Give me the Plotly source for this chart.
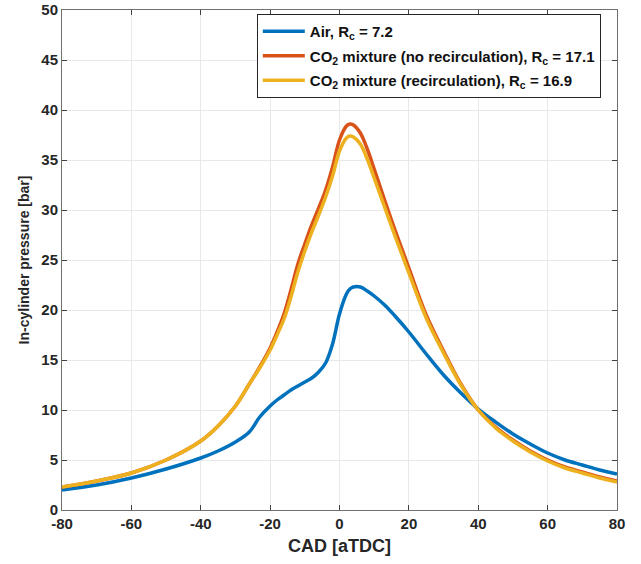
import plotly.graph_objects as go

# CAD [aTDC] sample positions shared by all series
cad = [-80, -70, -60, -50, -40, -35, -30, -26, -23, -20, -18, -16, -14, -12, -10, -8, -6, -4, -2, 0,
       2, 3, 4, 6, 8, 10, 13, 16, 20, 25, 30, 35, 40, 45, 50, 55, 60, 65, 70, 75, 80]

# In-cylinder pressure [bar]
p_air = [2.0, 2.5, 3.2, 4.1, 5.2, 5.9, 6.8, 7.8, 9.3, 10.4, 11.0, 11.5, 12.0, 12.4, 12.8, 13.2, 13.8, 14.7, 16.6, 19.6,
         21.6, 22.1, 22.3, 22.3, 21.9, 21.4, 20.5, 19.4, 17.8, 15.6, 13.5, 11.7, 10.1, 8.8, 7.6, 6.6, 5.7, 5.0, 4.5, 4.0, 3.6]
p_norecirc = [2.3, 2.9, 3.7, 5.0, 6.9, 8.4, 10.4, 12.6, 14.3, 16.2, 17.8, 19.6, 22.0, 24.6, 26.6, 28.5, 30.2, 32.0, 34.3, 37.0,
              38.4, 38.6, 38.5, 37.7, 36.1, 34.1, 31.0, 28.0, 24.2, 19.5, 15.9, 12.6, 10.0, 8.3, 7.0, 5.9, 5.0, 4.3, 3.8, 3.3, 2.9]
p_recirc = [2.3, 2.9, 3.7, 5.0, 6.9, 8.4, 10.4, 12.6, 14.2, 16.0, 17.5, 19.1, 21.3, 23.8, 25.9, 27.8, 29.5, 31.3, 33.4, 35.9,
            37.2, 37.4, 37.3, 36.6, 35.1, 33.2, 30.3, 27.4, 23.7, 19.2, 15.7, 12.5, 10.0, 8.2, 6.9, 5.8, 4.9, 4.2, 3.7, 3.2, 2.8]

names = ["Air, R<sub>c</sub> = 7.2",
         "CO<sub>2</sub> mixture (no recirculation), R<sub>c</sub> = 17.1",
         "CO<sub>2</sub> mixture (recirculation), R<sub>c</sub> = 16.9"]
colors = ["#0072BD", "#D95319", "#EDB120"]

x_ticks = [-80, -60, -40, -20, 0, 20, 40, 60, 80]
x_ticktext = ["-80", "-60", "-40", "-20", "0", "20", "40", "60", "80"]
y_ticks = [0, 5, 10, 15, 20, 25, 30, 35, 40, 45, 50]

fig = go.Figure()
for i, (ys, nm, c) in enumerate([(p_air, names[0], colors[0]),
                                 (p_norecirc, names[1], colors[1]),
                                 (p_recirc, names[2], colors[2])]):
    fig.add_trace(go.Scatter(x=cad, y=ys, mode="lines", name=nm, legendgroup=f"g{i}",
                             line=dict(color=c, width=3.5, shape="spline", smoothing=1.0)))

tickfont = dict(family="Liberation Sans, Arial", size=15, color="#262626", weight="bold")
axis_common = dict(showgrid=True, gridcolor="#e8e8e8", gridwidth=1,
                   showline=True, linecolor="#707070", linewidth=1, mirror="ticks",
                   ticks="inside", ticklen=5, tickcolor="#404040", zeroline=False,
                   automargin=False, tickfont=tickfont)

fig.update_layout(
    width=641, height=564,
    margin=dict(l=62, r=24, t=10, b=54),
    paper_bgcolor="white", plot_bgcolor="white",
    showlegend=True,
    legend=dict(x=0.351, y=0.992, xanchor="left", yanchor="top",
                bgcolor="white", bordercolor="#262626", borderwidth=1,
                font=dict(family="Liberation Sans, Arial", size=15, color="#111111", weight="bold"),
                itemwidth=42, tracegroupgap=2),
    xaxis=dict(range=[-80, 80], tickvals=x_ticks, ticktext=x_ticktext,
               title=dict(text="CAD [aTDC]", standoff=8,
                          font=dict(family="Liberation Sans, Arial", size=18,
                                    color="#262626", weight="bold")),
               **axis_common),
    yaxis=dict(range=[0, 50], tickvals=y_ticks,
               title=dict(text="In-cylinder pressure [bar]", standoff=8,
                          font=dict(family="Liberation Sans, Arial", size=14,
                                    color="#262626", weight="bold")),
               **axis_common),
)

fig.write_html("out.html")
